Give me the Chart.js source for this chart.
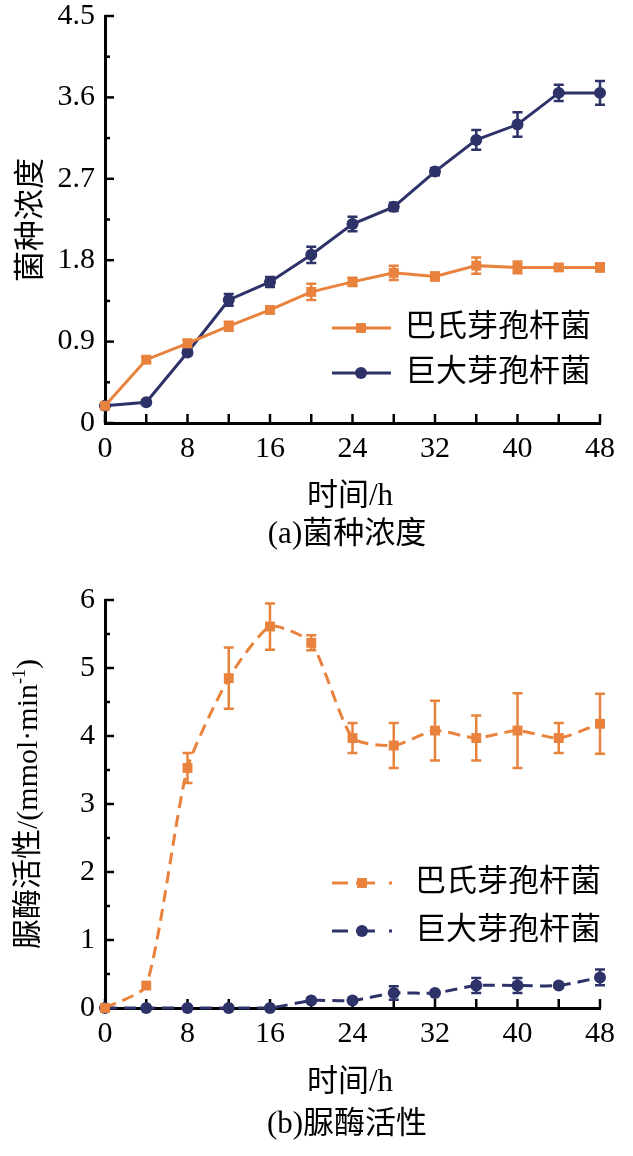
<!DOCTYPE html>
<html>
<head>
<meta charset="utf-8">
<script src="https://cdn.jsdelivr.net/npm/chart.js@4.4.0/dist/chart.umd.min.js"></script>
<style>
html, body { margin: 0; padding: 0; background: #fff; }
#wrap { position: relative; width: 633px; height: 1156px; }
.box { position: absolute; left: 0; width: 633px; height: 578px; }
</style>
</head>
<body>
<div id="wrap">
  <div class="box" style="top:0"><canvas id="chartA" width="633" height="578"></canvas></div>
  <div class="box" style="top:578px"><canvas id="chartB" width="633" height="578"></canvas></div>
</div>
<script>
// sampling times (h)
var hours = [0, 4, 8, 12, 16, 20, 24, 28, 32, 36, 40, 44, 48];
var seriesNames = ['巴氏芽孢杆菌', '巨大芽孢杆菌'];
var hourTickLabels = ['0', '8', '16', '24', '32', '40', '48'];

// (a) 菌种浓度
var pasteuriiConc    = [0.19, 0.70, 0.88, 1.07, 1.25, 1.45, 1.56, 1.66, 1.62, 1.74, 1.72, 1.72, 1.72];
var pasteuriiConcErr = [0, 0.03, 0.04, 0.05, 0.03, 0.09, 0.045, 0.08, 0.045, 0.09, 0.065, 0.03, 0.045];
var megateriumConc    = [0.19, 0.23, 0.78, 1.36, 1.56, 1.86, 2.20, 2.39, 2.78, 3.13, 3.30, 3.65, 3.65];
var megateriumConcErr = [0, 0.02, 0.03, 0.065, 0.055, 0.09, 0.08, 0.045, 0.04, 0.11, 0.135, 0.09, 0.13];
var concTickLabels = ['0', '0.9', '1.8', '2.7', '3.6', '4.5'];

// (b) 脲酶活性
var pasteuriiUrease    = [0, 0.33, 3.53, 4.85, 5.61, 5.37, 3.97, 3.86, 4.08, 3.97, 4.08, 3.97, 4.18];
var pasteuriiUreaseErr = [0, 0, 0.22, 0.45, 0.34, 0.11, 0.22, 0.33, 0.44, 0.33, 0.55, 0.22, 0.44];
var megateriumUrease    = [0, 0, 0, 0, 0, 0.11, 0.11, 0.22, 0.22, 0.33, 0.33, 0.33, 0.45];
var megateriumUreaseErr = [0, 0, 0, 0, 0, 0, 0, 0.1, 0, 0.11, 0.11, 0, 0.115];
var ureaseTickLabels = ['0', '1', '2', '3', '4', '5', '6'];

var ORANGE = '#E8823C';
var NAVY = '#2D3269';
var FONT = '"Liberation Serif", "Noto Sans CJK SC", serif';

function points(vals) {
    return hours.map(function (h, i) { return { x: h, y: vals[i] }; });
}

// no extra room for overhanging tick labels, the frame is fixed
function noOverhang(s) {
    s.paddingTop = 0; s.paddingBottom = 0; s.paddingLeft = 0; s.paddingRight = 0;
}

// inward ticks, error bars, titles and legend
var decor = {
    id: 'decor',
    beforeDatasetsDraw: function (chart, args, opts) {
        var ctx = chart.ctx, a = chart.chartArea;
        var xs = chart.scales.x, ys = chart.scales.y;
        ctx.save();
        ctx.strokeStyle = '#000';
        ctx.lineWidth = 2.5;
        xs.ticks.forEach(function (t) {
            var px = xs.getPixelForValue(t.value);
            ctx.beginPath(); ctx.moveTo(px, a.bottom); ctx.lineTo(px, a.bottom - 9); ctx.stroke();
        });
        ys.ticks.forEach(function (t, i) {
            var py = ys.getPixelForValue(t.value);
            ctx.beginPath(); ctx.moveTo(a.left, py); ctx.lineTo(a.left + (i % 2 ? 5 : 9), py); ctx.stroke();
        });
        // error bars
        opts.errors.forEach(function (errs, di) {
            var ds = chart.data.datasets[di];
            ctx.strokeStyle = ds.borderColor;
            ctx.lineWidth = 2.5;
            ds.data.forEach(function (p, i) {
                var e = errs[i];
                if (!e) return;
                var px = xs.getPixelForValue(p.x);
                var top = ys.getPixelForValue(p.y + e);
                var bot = ys.getPixelForValue(p.y - e);
                ctx.beginPath();
                ctx.moveTo(px, top); ctx.lineTo(px, bot);
                ctx.moveTo(px - 5, top); ctx.lineTo(px + 5, top);
                ctx.moveTo(px - 5, bot); ctx.lineTo(px + 5, bot);
                ctx.stroke();
            });
        });
        ctx.restore();
    },
    afterDraw: function (chart, args, opts) {
        var ctx = chart.ctx;
        ctx.save();
        ctx.fillStyle = '#000';

        // y title, rotated, may hold a superscript part
        ctx.translate(opts.yTitle.x, opts.yTitle.y);
        ctx.rotate(-Math.PI / 2);
        var total = 0;
        opts.yTitle.parts.forEach(function (p) {
            ctx.font = p.size + 'px ' + FONT;
            p.w = ctx.measureText(p.text).width;
            total += p.w;
        });
        var tx = -total / 2;
        ctx.textBaseline = 'middle';
        ctx.textAlign = 'left';
        opts.yTitle.parts.forEach(function (p) {
            ctx.font = p.size + 'px ' + FONT;
            ctx.fillText(p.text, tx, p.dy || 0);
            tx += p.w;
        });
        ctx.setTransform(1, 0, 0, 1, 0, 0);
        ctx.scale(chart.currentDevicePixelRatio, chart.currentDevicePixelRatio);

        // x title and caption
        ctx.textAlign = 'center';
        ctx.textBaseline = 'middle';
        ctx.font = '31px ' + FONT;
        ctx.fillText('时间/h', opts.xTitle.x, opts.xTitle.y);
        ctx.fillText(opts.caption.text, opts.caption.x, opts.caption.y);

        // legend
        opts.legend.forEach(function (item, di) {
            var ds = chart.data.datasets[di];
            ctx.strokeStyle = ds.borderColor;
            ctx.fillStyle = ds.borderColor;
            ctx.lineWidth = 3;
            item.segs.forEach(function (s) {
                ctx.beginPath(); ctx.moveTo(s[0], item.y); ctx.lineTo(s[1], item.y); ctx.stroke();
            });
            Chart.helpers.drawPoint(ctx, {
                pointStyle: ds.pointStyle, radius: ds.pointRadius, borderWidth: 0, rotation: 0
            }, item.mx, item.y);
            ctx.fillStyle = '#000';
            ctx.textAlign = 'left';
            ctx.font = '31px ' + FONT;
            ctx.fillText(seriesNames[di], item.tx, item.y);
        });
        ctx.restore();
    }
};

function makeChart(id, cfg) {
    return new Chart(document.getElementById(id), {
        type: 'line',
        data: {
            datasets: [
                {
                    label: seriesNames[0],
                    data: points(cfg.a),
                    borderColor: ORANGE,
                    backgroundColor: ORANGE,
                    borderWidth: 3,
                    borderDash: cfg.dash,
                    tension: cfg.tension,
                    pointStyle: 'rect',
                    pointRadius: 7,
                    pointBorderWidth: 0,
                    clip: false
                },
                {
                    label: seriesNames[1],
                    data: points(cfg.b),
                    borderColor: NAVY,
                    backgroundColor: NAVY,
                    borderWidth: 3,
                    borderDash: cfg.dash,
                    tension: cfg.tension,
                    pointStyle: 'circle',
                    pointRadius: 6,
                    pointBorderWidth: 0,
                    clip: false
                }
            ]
        },
        options: {
            responsive: false,
            animation: false,
            layout: { padding: { top: cfg.top, right: 33, left: 0, bottom: 0 } },
            scales: {
                x: {
                    type: 'linear', min: 0, max: 48,
                    grid: { display: false, drawTicks: false },
                    border: { display: true, color: '#000', width: 3 },
                    ticks: {
                        stepSize: 4, autoSkip: false, maxRotation: 0, padding: 8,
                        color: '#000', font: { family: FONT, size: 30 },
                        callback: function (v) { return v % 8 === 0 ? hourTickLabels[v / 8] : ''; }
                    },
                    afterFit: function (s) { s.height = cfg.xh; noOverhang(s); }
                },
                y: {
                    min: 0, max: cfg.ymax,
                    grid: { display: false, drawTicks: false },
                    border: { display: true, color: '#000', width: 3 },
                    ticks: {
                        stepSize: cfg.ystep, autoSkip: false, padding: 10,
                        color: '#000', font: { family: FONT, size: 30 },
                        callback: function (v, i) { return i % 2 ? '' : cfg.yLabels[i / 2]; }
                    },
                    afterFit: function (s) { s.width = 105; noOverhang(s); }
                }
            },
            plugins: {
                legend: { display: false },
                tooltip: { enabled: false },
                decor: cfg.decor
            }
        },
        plugins: [decor]
    });
}

makeChart('chartA', {
    a: pasteuriiConc, b: megateriumConc, dash: [], tension: 0,
    ymax: 4.5, ystep: 0.45, yLabels: concTickLabels, top: 16, xh: 155,
    decor: {
        errors: [pasteuriiConcErr, megateriumConcErr],
        yTitle: { x: 32, y: 220, parts: [{ text: '菌种浓度', size: 31 }] },
        xTitle: { x: 350, y: 497 },
        caption: { text: '(a)菌种浓度', x: 347, y: 535 },
        legend: [
            { y: 328, segs: [[332, 391]], mx: 361, tx: 405 },
            { y: 373, segs: [[332, 391]], mx: 361, tx: 405 }
        ]
    }
});

makeChart('chartB', {
    a: pasteuriiUrease, b: megateriumUrease, dash: [12, 7], tension: 0.2,
    ymax: 6, ystep: 0.5, yLabels: ureaseTickLabels, top: 22, xh: 148,
    decor: {
        errors: [pasteuriiUreaseErr, megateriumUreaseErr],
        yTitle: { x: 29, y: 226, parts: [
            { text: '脲酶活性/(mmol·min', size: 30 },
            { text: '-1', size: 18, dy: -9 },
            { text: ')', size: 30 }
        ] },
        xTitle: { x: 350, y: 505 },
        caption: { text: '(b)脲酶活性', x: 347, y: 547 },
        legend: [
            { y: 305, segs: [[332, 348], [356, 375], [389, 392]], mx: 362, tx: 415 },
            { y: 353, segs: [[332, 348], [356, 375], [389, 392]], mx: 362, tx: 415 }
        ]
    }
});
</script>
</body>
</html>
